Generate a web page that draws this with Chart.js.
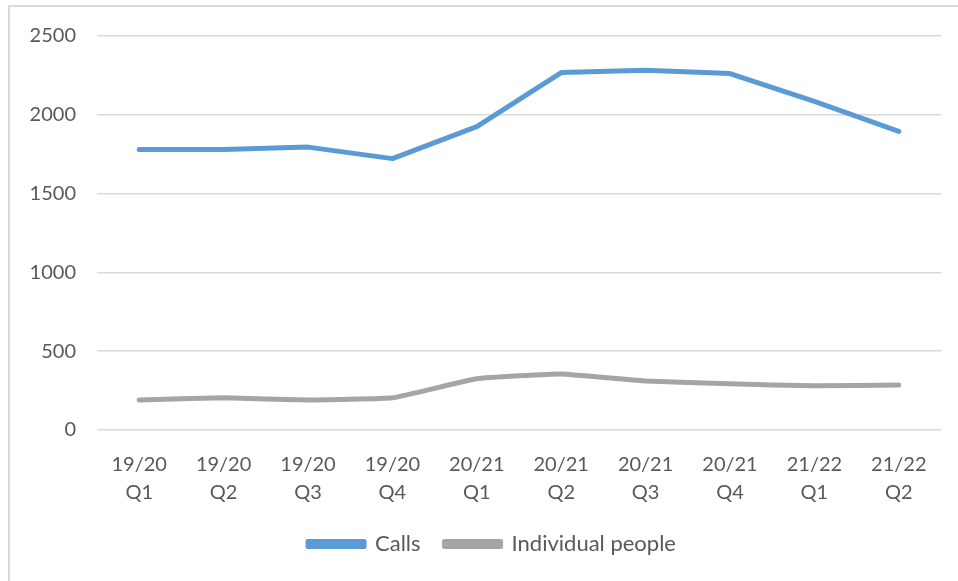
<!DOCTYPE html>
<html>
<head>
<meta charset="utf-8">
<script src="https://cdn.jsdelivr.net/npm/chart.js@4.4.1/dist/chart.umd.min.js"></script>
<style>
  html, body { margin: 0; padding: 0; background: #fff; }
  body { width: 958px; height: 581px; position: relative; overflow: hidden; }
  #frame { position: absolute; left: 8px; top: 5px; width: 1000px; height: 600px;
           border-left: 2px solid #d9d9d9; border-top: 2px solid #d9d9d9; }
  #wrap { position: absolute; left: 0; top: 0; width: 958px; height: 581px; }
</style>
</head>
<body>
<div id="frame"></div>
<div id="wrap"><canvas id="c" width="958" height="581"></canvas></div>
<script>
// Quarterly figures
const quarters = [
  ['19/20', 'Q1'], ['19/20', 'Q2'], ['19/20', 'Q3'], ['19/20', 'Q4'],
  ['20/21', 'Q1'], ['20/21', 'Q2'], ['20/21', 'Q3'], ['20/21', 'Q4'],
  ['21/22', 'Q1'], ['21/22', 'Q2']
];
const calls = [1780, 1780, 1795, 1722, 1925, 2268, 2282, 2262, 2085, 1895];
const individualPeople = [190, 204, 190, 204, 325, 356, 311, 293, 280, 286];
const yTicks = [0, 500, 1000, 1500, 2000, 2500];

const FONT = 'Lato, "Open Sans", sans-serif';
const TEXT = '#595959';

// Centre the legend under the plot area rather than the whole canvas
const legendUnderPlot = {
  id: 'legendUnderPlot',
  afterLayout(chart) {
    const lg = chart.legend;
    if (!lg) return;
    const shift = (chart.chartArea.left + chart.chartArea.right) / 2 - (lg.left + lg.right) / 2 - 27;
    lg.left += shift;
    lg.right += shift;
  }
};

new Chart(document.getElementById('c'), {
  type: 'line',
  data: {
    labels: quarters,
    datasets: [
      { label: 'Calls', data: calls, borderColor: '#5B9BD5', backgroundColor: '#5B9BD5',
        borderWidth: 5, pointRadius: 0, tension: 0, borderCapStyle: 'round', borderJoinStyle: 'round' },
      { label: 'Individual people', data: individualPeople, borderColor: '#A5A5A5', backgroundColor: '#A5A5A5',
        borderWidth: 5, pointRadius: 0, tension: 0.1, borderCapStyle: 'round', borderJoinStyle: 'round' }
    ]
  },
  plugins: [legendUnderPlot],
  options: {
    responsive: false,
    animation: false,
    layout: { padding: { left: 0, right: 17, top: 36, bottom: 16 } },
    plugins: {
      legend: {
        position: 'bottom',
        labels: {
          font: { family: FONT, size: 22 },
          color: TEXT,
          boxWidth: 56,
          boxHeight: 5,
          padding: 24
        }
      },
      tooltip: { enabled: false }
    },
    scales: {
      x: {
        offset: true,
        afterFit: s => { s.height = 79; },
        grid: { display: false, drawTicks: false },
        border: { display: false },
        ticks: { font: { family: FONT, size: 20, lineHeight: 1.4 }, color: TEXT, padding: 21, maxRotation: 0 }
      },
      y: {
        min: 0, max: 2500,
        afterBuildTicks: s => { s.ticks = yTicks.map(v => ({ value: v })); },
        afterFit: s => { s.width = 97; },
        grid: { color: '#d9d9d9', lineWidth: 1.5, drawTicks: false },
        border: { display: false },
        ticks: { font: { family: FONT, size: 20 }, color: TEXT, padding: 21,
                 callback: v => String(v) }
      }
    }
  }
});
</script>
</body>
</html>
